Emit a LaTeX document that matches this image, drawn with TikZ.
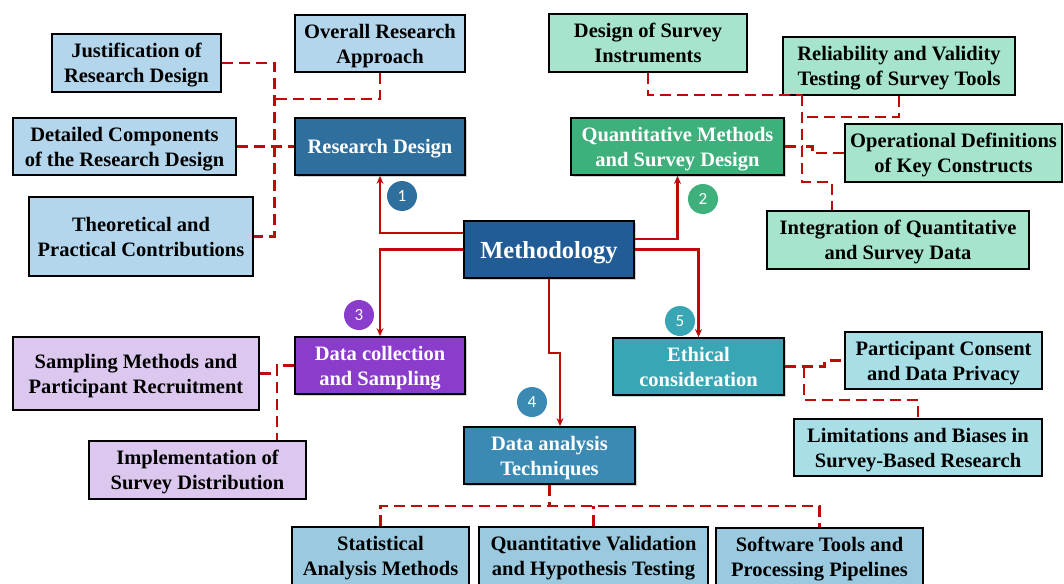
\documentclass[tikz,border=0pt]{standalone}
\usepackage{fontspec}
\setmainfont{Liberation Serif}
\newfontfamily\badgefont{Carlito}
\usetikzlibrary{arrows.meta,shadows,calc}
\definecolor{rdblue}{HTML}{2E6F9E}
\definecolor{rdsub}{HTML}{B3D6EC}
\definecolor{methblue}{HTML}{225C96}
\definecolor{qgreen}{HTML}{3DB07C}
\definecolor{qsub}{HTML}{A6E5CB}
\definecolor{dcpurple}{HTML}{8A3CCB}
\definecolor{dcsub}{HTML}{DCC8EE}
\definecolor{dablue}{HTML}{3A8AB4}
\definecolor{dasub}{HTML}{9BCAE0}
\definecolor{etteal}{HTML}{38A6B5}
\definecolor{etsub}{HTML}{A8DFE7}
\definecolor{linkred}{HTML}{C00A0A}
\tikzset{
  box/.style={draw=black, line width=1.7pt, inner sep=0pt, align=center, text depth=0pt,
    font=\bfseries\fontsize{20.5}{25}\selectfont},
  mainbox/.style={box, text=white,
    drop shadow={shadow xshift=2pt, shadow yshift=-2pt, opacity=0.35}},
  subbox/.style={box, text=black},
  badge/.style={circle, inner sep=0pt, minimum size=30pt, text=white,
    font=\badgefont\fontsize{17}{17}\selectfont},
  feed/.style={draw=linkred, line width=2.6pt, -{Stealth[length=8pt,width=7pt]}},
  link/.style={draw=linkred, line width=2.8pt, dash pattern=on 11pt off 6pt}
}

\begin{document}
\begin{tikzpicture}[x=1pt,y=-1pt]
  \useasboundingbox (0,0) rectangle (1064,583);
  \node[mainbox, fill=methblue, minimum width=170pt, minimum height=57pt,
    font=\bfseries\fontsize{24.5}{28}\selectfont] (meth) at (549,249.5) {Methodology};
  \node[mainbox, fill=rdblue, minimum width=170pt, minimum height=57pt] (rd) at (380,146.5) {Research Design};
  \node[subbox, fill=rdsub, minimum width=169pt, minimum height=58pt] (just) at (136.5,63) {Justification of\\Research Design};
  \node[subbox, fill=rdsub, minimum width=170pt, minimum height=57pt] (overall) at (380,43.5) {Overall Research\\Approach};
  \node[subbox, fill=rdsub, minimum width=223pt, minimum height=57pt] (detail) at (124.5,146.5) {Detailed Components\\of the Research Design};
  \node[subbox, fill=rdsub, minimum width=224pt, minimum height=79pt] (theo) at (141,236.5) {Theoretical and\\Practical Contributions};
  \node[mainbox, fill=qgreen, minimum width=213pt, minimum height=57pt] (quant) at (677.5,146.5) {Quantitative Methods\\and Survey Design};
  \node[subbox, fill=qsub, minimum width=198pt, minimum height=58pt] (design) at (648,43) {Design of Survey\\Instruments};
  \node[subbox, fill=qsub, minimum width=232pt, minimum height=58pt] (rel) at (899,66) {Reliability and Validity\\Testing of Survey Tools};
  \node[subbox, fill=qsub, minimum width=217pt, minimum height=58pt] (oper) at (953.5,153) {Operational Definitions\\of Key Constructs};
  \node[subbox, fill=qsub, minimum width=262pt, minimum height=58pt] (integ) at (898,240) {Integration of Quantitative\\and Survey Data};
  \node[mainbox, fill=dcpurple, minimum width=170pt, minimum height=57pt] (dc) at (380,365.5) {Data collection\\and Sampling};
  \node[subbox, fill=dcsub, minimum width=246pt, minimum height=73pt] (samp) at (136,373.5) {Sampling Methods and\\Participant Recruitment};
  \node[subbox, fill=dcsub, minimum width=217pt, minimum height=58pt] (impl) at (197.5,470) {Implementation of\\Survey Distribution};
  \node[mainbox, fill=dablue, minimum width=171pt, minimum height=57pt] (da) at (549.5,455.5) {Data analysis\\Techniques};
  \node[subbox, fill=dasub, minimum width=177pt, minimum height=58pt] (stat) at (380.5,556) {Statistical\\Analysis Methods};
  \node[subbox, fill=dasub, minimum width=229pt, minimum height=58pt] (qv) at (593.5,556) {Quantitative Validation\\and Hypothesis Testing};
  \node[subbox, fill=dasub, minimum width=207pt, minimum height=58pt] (sw) at (819.5,557) {Software Tools and\\Processing Pipelines};
  \node[mainbox, fill=etteal, minimum width=171pt, minimum height=57pt] (eth) at (698.5,366.5) {Ethical\\consideration};
  \node[subbox, fill=etsub, minimum width=197pt, minimum height=57pt] (pc) at (943.5,360.5) {Participant Consent\\and Data Privacy};
  \node[subbox, fill=etsub, minimum width=248pt, minimum height=57pt] (lim) at (918,447.5) {Limitations and Biases in\\Survey-Based Research};

  \node[badge, fill=rdblue] (b1) at (402,196) {1};
  \node[badge, fill=qgreen] (b2) at (703,199) {2};
  \node[badge, fill=dcpurple] (b3) at (359,315) {3};
  \node[badge, fill=dablue] (b4) at (532,402) {4};
  \node[badge, fill=etteal] (b5) at (680,321) {5};

  \draw[feed] ([yshift=16.5pt]meth.west) -| (rd.south);
  \draw[feed] (meth.west) -| (dc.north);
  \draw[feed] ([yshift=10.5pt]meth.east) -| (quant.south);
  \draw[feed] (meth.east) -| (eth.north);
  \draw[feed] (meth.south) -- ++(0,74) -| ([xshift=10.5pt]da.north);

  \coordinate (rdbus) at (274.5,63);
  \coordinate (rdmid) at (274.5,99);
  \draw[link] (just.east) -- (rdbus) |- (theo.east);
  \draw[link] (overall.south) |- (rdmid);
  \draw[link] (detail.east) -- (rd.west);

  \coordinate (qtop) at (802,95);
  \coordinate (qrel) at (802,117);
  \coordinate (qmid) at (802,146.5);
  \coordinate (qlow) at (802,182);
  \draw[link] (design.south) |- (qtop);
  \draw[link] (rel.south) |- (qrel);
  \draw[link] (qtop) -- (qlow) -| ($(integ.north west)!0.25!(integ.north east)$);
  \draw[link] (quant.east) -- (qmid);
  \draw[link] (oper.west) -- ++(-32,0) |- (qmid);

  \coordinate (dcbus) at (277,365.5);
  \draw[link] (dc.west) -- (dcbus) -- (dcbus |- impl.north);
  \draw[link] (samp.east) -| (dcbus);

  \coordinate (dabus) at (549.5,506);
  \draw[link] (da.south) -- (dabus);
  \draw[link] (stat.north) -- (stat.north |- dabus) -- (sw.north |- dabus) -- (sw.north);
  \draw[link] (qv.north) -- (qv.north |- dabus);

  \coordinate (etbus) at (804,366.5);
  \draw[link] (eth.east) -- ++(40,0) |- (pc.west);
  \draw[link] (etbus) -- ++(0,33.5) -| (lim.north);
\end{tikzpicture}
\end{document}
